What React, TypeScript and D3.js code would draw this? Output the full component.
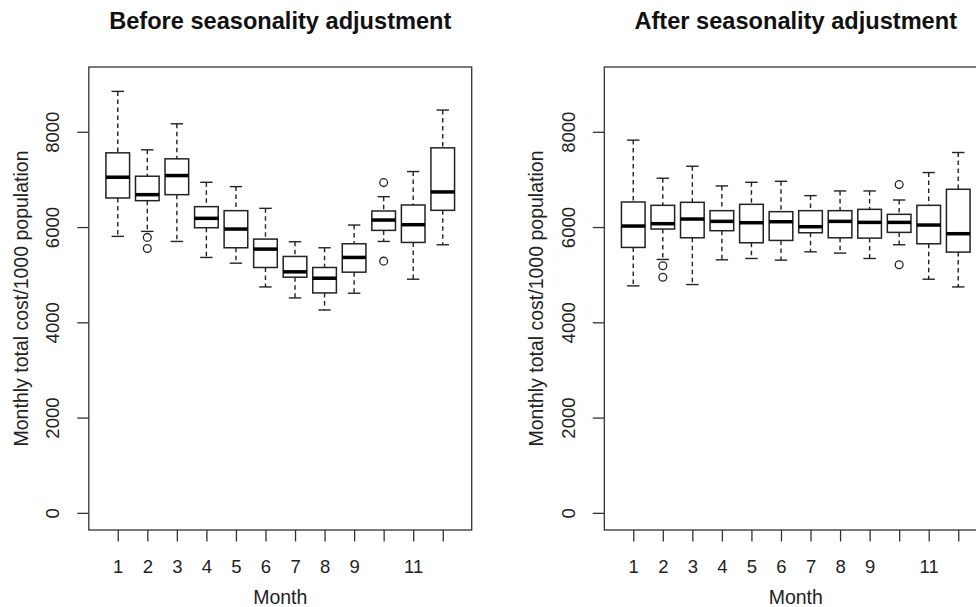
import React, { useEffect, useRef } from "react";
import * as d3 from "d3";

// ---- data ----
const months = [1, 2, 3, 4, 5, 6, 7, 8, 9, 10, 11, 12];
const monthLabels = ["1", "2", "3", "4", "5", "6", "7", "8", "9", "", "11", ""];
const yTicks = [0, 2000, 4000, 6000, 8000];

// Before seasonality adjustment
const beforeLowW = [5804, 5909, 5698, 5362, 5242, 4743, 4512, 4259, 4611, 5698, 4905, 5628];
const beforeQ1 = [6610, 6554, 6680, 5986, 5565, 5151, 4947, 4617, 5053, 5930, 5677, 6351];
const beforeMed = [7046, 6680, 7081, 6183, 5958, 5537, 5060, 4926, 5362, 6147, 6049, 6737];
const beforeQ3 = [7558, 7067, 7432, 6428, 6344, 5747, 5383, 5151, 5649, 6337, 6463, 7663];
const beforeHighW = [8848, 7621, 8168, 6940, 6849, 6393, 5691, 5565, 6042, 6638, 7165, 8456];
const beforeOutliers: [number, number][] = [[2, 5783], [2, 5551], [10, 6933], [10, 5284]];

// After seasonality adjustment
const afterLowW = [4765, 5320, 4793, 5312, 5340, 5305, 5480, 5453, 5340, 5628, 4905, 4743];
const afterQ1 = [5572, 5958, 5775, 5923, 5670, 5719, 5880, 5775, 5768, 5888, 5649, 5474];
const afterMed = [6021, 6070, 6168, 6119, 6091, 6112, 6007, 6119, 6098, 6098, 6042, 5860];
const afterQ3 = [6526, 6456, 6519, 6344, 6477, 6323, 6344, 6344, 6372, 6267, 6456, 6793];
const afterHighW = [7825, 7025, 7277, 6863, 6940, 6961, 6660, 6758, 6758, 6568, 7144, 7565];
const afterOutliers: [number, number][] = [[2, 5186], [2, 4947], [10, 6891], [10, 5207]];

const FONT = "'Liberation Sans', Arial, Helvetica, sans-serif";

type PanelProps = {
  title: string;
  left: number;
  lowW: number[];
  q1: number[];
  med: number[];
  q3: number[];
  highW: number[];
  outliers: [number, number][];
};

const TOP = 67;
const BOTTOM = 530;
const WIDTH = 382.9;

function Panel({ title, left, lowW, q1, med, q3, highW, outliers }: PanelProps) {
  const gx = useRef<SVGGElement>(null);
  const gy = useRef<SVGGElement>(null);
  const x = d3.scaleLinear().domain([0.02, 12.98]).range([left, left + WIDTH]);
  const y = d3.scaleLinear().domain([-360, 9360]).range([BOTTOM, TOP]);
  const unit = x(1) - x(0);
  const half = 0.4 * unit;
  const cap = 0.21 * unit;

  useEffect(() => {
    if (gx.current) {
      const ax = d3
        .axisBottom(x)
        .tickValues(months)
        .tickSize(11.5)
        .tickPadding(0)
        .tickFormat((d, i) => monthLabels[i]);
      const s = d3.select(gx.current);
      s.call(ax as any);
      s.select(".domain").remove();
      s.selectAll("line").attr("stroke", "#333").attr("stroke-width", 1.3);
      s.selectAll("text")
        .attr("y", 43.3)
        .attr("dy", null)
        .attr("fill", "#222")
        .style("font-size", "18.5px")
        .style("font-family", FONT);
    }
    if (gy.current) {
      const ay = d3.axisLeft(y).tickValues(yTicks).tickSize(11.5).tickFormat(d3.format("d"));
      const s = d3.select(gy.current);
      s.call(ay as any);
      s.select(".domain").remove();
      s.selectAll("line").attr("stroke", "#333").attr("stroke-width", 1.3);
      s.selectAll("text")
        .attr("x", null)
        .attr("dy", null)
        .attr("transform", "translate(-29.5,0) rotate(-90)")
        .attr("text-anchor", "middle")
        .attr("fill", "#222")
        .style("font-size", "18.5px")
        .style("font-family", FONT);
    }
  });

  const cx = (left + left + WIDTH) / 2;
  return (
    <g>
      <text
        x={cx}
        y={29}
        textAnchor="middle"
        fontFamily={FONT}
        fontWeight="bold"
        fontSize={23.6}
        fill="#111"
      >
        {title}
      </text>
      {months.map((m, i) => {
        const xc = x(m);
        return (
          <g key={m} stroke="#222" fill="none">
            <line x1={xc} x2={xc} y1={y(highW[i])} y2={y(q3[i])} strokeWidth={1.4} strokeDasharray="4.5,3.5" />
            <line x1={xc} x2={xc} y1={y(q1[i])} y2={y(lowW[i])} strokeWidth={1.4} strokeDasharray="4.5,3.5" />
            <line x1={xc - cap} x2={xc + cap} y1={y(highW[i])} y2={y(highW[i])} strokeWidth={1.4} />
            <line x1={xc - cap} x2={xc + cap} y1={y(lowW[i])} y2={y(lowW[i])} strokeWidth={1.4} />
            <rect
              x={xc - half}
              width={2 * half}
              y={y(q3[i])}
              height={y(q1[i]) - y(q3[i])}
              fill="#fff"
              strokeWidth={1.5}
            />
            <line x1={xc - half} x2={xc + half} y1={y(med[i])} y2={y(med[i])} strokeWidth={3.5} stroke="#000" />
          </g>
        );
      })}
      {outliers.map(([m, v], i) => (
        <circle key={i} cx={x(m)} cy={y(v)} r={3.9} fill="none" stroke="#222" strokeWidth={1.3} />
      ))}
      <rect
        x={left}
        y={TOP}
        width={WIDTH}
        height={BOTTOM - TOP}
        fill="none"
        stroke="#333"
        strokeWidth={1.3}
      />
      <g ref={gx} transform={`translate(0,${BOTTOM})`} />
      <g ref={gy} transform={`translate(${left},0)`} />
      <text
        x={cx}
        y={604}
        textAnchor="middle"
        fontFamily={FONT}
        fontSize={19.5}
        fill="#222"
      >
        Month
      </text>
      <text
        transform={`translate(${left - 61.3},${(TOP + BOTTOM) / 2}) rotate(-90)`}
        textAnchor="middle"
        fontFamily={FONT}
        fontSize={19.5}
        fill="#222"
      >
        Monthly total cost/1000 population
      </text>
    </g>
  );
}

export default function App() {
  return (
    <div style={{ position: "absolute", left: 0, top: 0 }}>
      <svg width={976} height={607} style={{ display: "block", background: "#fff" }}>
        <Panel
          title="Before seasonality adjustment"
          left={88.8}
          lowW={beforeLowW}
          q1={beforeQ1}
          med={beforeMed}
          q3={beforeQ3}
          highW={beforeHighW}
          outliers={beforeOutliers}
        />
        <Panel
          title="After seasonality adjustment"
          left={604.3}
          lowW={afterLowW}
          q1={afterQ1}
          med={afterMed}
          q3={afterQ3}
          highW={afterHighW}
          outliers={afterOutliers}
        />
      </svg>
    </div>
  );
}
